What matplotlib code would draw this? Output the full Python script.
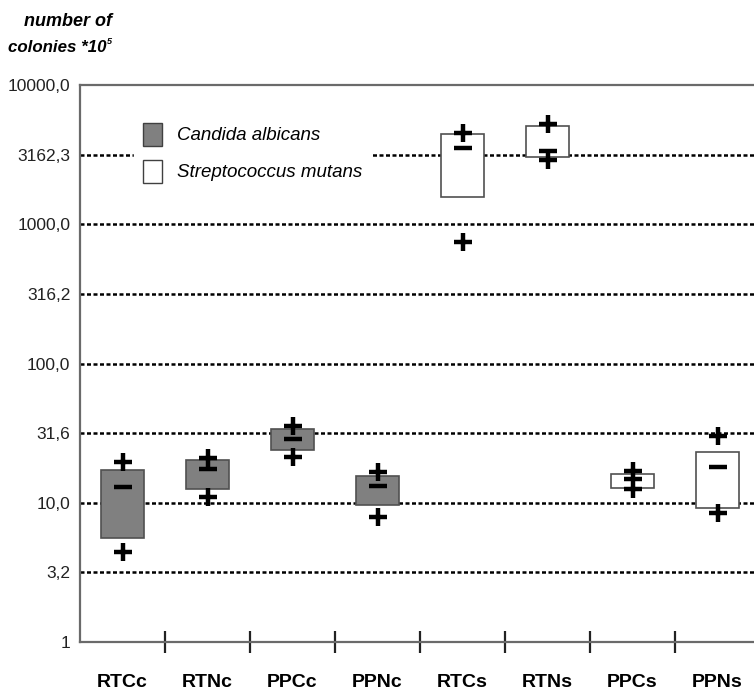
import matplotlib
matplotlib.use("Agg")
from matplotlib import pyplot as plt
from matplotlib.patches import Patch
import numpy as np

plt.rcParams['font.family'] = ['Liberation Sans', 'DejaVu Sans']

groups = ["RTCc", "RTNc", "PPCc", "PPNc", "RTCs", "RTNs", "PPCs", "PPNs"]
box_low = [5.6, 12.6, 23.9, 9.6, 1570, 3040, 12.8, 9.2]
box_high = [17.2, 20.3, 33.9, 15.6, 4450, 5080, 16.1, 23.1]
median = [13.0, 17.5, 28.7, 13.2, 3530, 3360, 14.8, 18.1]
max_val = [19.6, 21.0, 35.6, 16.6, 4520, 5250, 16.9, 30.2]
min_val = [4.4, 11.0, 21.3, 7.9, 746, 2890, 12.6, 8.4]
is_candida = [True, True, True, True, False, False, False, False]

yticks = [1, 3.2, 10, 31.6, 100, 316.2, 1000, 3162.3, 10000]
ylabels = ["1", "3,2", "10,0", "31,6", "100,0", "316,2", "1000,0", "3162,3", "10000,0"]

fig = plt.figure(figsize=(7.54, 6.91), dpi=100)
ax = fig.add_axes([80 / 754, 49 / 691, 680 / 754, 557 / 691])

x = np.arange(len(groups))
ax.set_yscale("log")
ax.set_ylim(1, 10000)
ax.set_xlim(-0.5, 7.5)

# dotted reference lines
for v in yticks[1:-1]:
    ax.axhline(v, color="black", lw=1.8, ls=(0, (1.6, 1.0)), zorder=1)

colors = ["#808080" if c else "white" for c in is_candida]
heights = [h - l for h, l in zip(box_high, box_low)]
ax.bar(x, heights, bottom=box_low, width=0.5, color=colors,
       edgecolor="#505050", linewidth=1.2, zorder=3)

ax.plot(x, max_val, ls="none", marker="+", ms=13, mew=3.2, color="black", zorder=4)
ax.plot(x, min_val, ls="none", marker="+", ms=13, mew=3.2, color="black", zorder=4)
ax.plot(x, median, ls="none", marker="_", ms=13, mew=3.2, color="black", zorder=4)

ax.set_yticks(yticks)
ax.set_yticklabels(ylabels)
ax.yaxis.set_minor_locator(matplotlib.ticker.NullLocator())
ax.tick_params(axis="y", length=0, pad=7, labelsize=12.5, colors="#222222")

ax.set_xticks(x)
ax.set_xticklabels(groups, fontweight="bold", fontsize=14)
ax.tick_params(axis="x", length=0, pad=23)
ax.set_xticks(x[:-1] + 0.5, minor=True)
ax.tick_params(axis="x", which="minor", direction="inout", length=16, width=1.6, color="#222222")

for s in ["left", "bottom", "top"]:
    ax.spines[s].set_color("#6a6a6a")
    ax.spines[s].set_linewidth(1.6)
ax.spines["right"].set_visible(False)

handles = [Patch(facecolor="#808080", edgecolor="#404040", label="Candida albicans"),
           Patch(facecolor="white", edgecolor="#404040", label="Streptococcus mutans")]
leg = ax.legend(handles=handles, loc="upper left", bbox_to_anchor=(0.065, 0.966),
                frameon=True, facecolor="white", edgecolor="white", framealpha=1,
                prop={"style": "italic", "size": 13.5},
                handlelength=1.0, handleheight=1.5, handletextpad=0.8, labelspacing=0.75,
                borderpad=0.5, fancybox=False)
leg.set_zorder(5)

# y-axis title, two lines with a tiny superscript
fig.text(112 / 754, 1 - 22 / 691, "number of", fontsize=13,
         fontweight="bold", fontstyle="italic", ha="right", va="center")
fig.text(8 / 754, 1 - 48 / 691, "colonies *10", fontsize=12.2,
         fontweight="bold", fontstyle="italic", ha="left", va="center")
fig.text(107 / 754, 1 - 42 / 691, "5", fontsize=6.5,
         fontweight="bold", fontstyle="italic", ha="left", va="center")

fig.savefig("out.png", dpi=100)
